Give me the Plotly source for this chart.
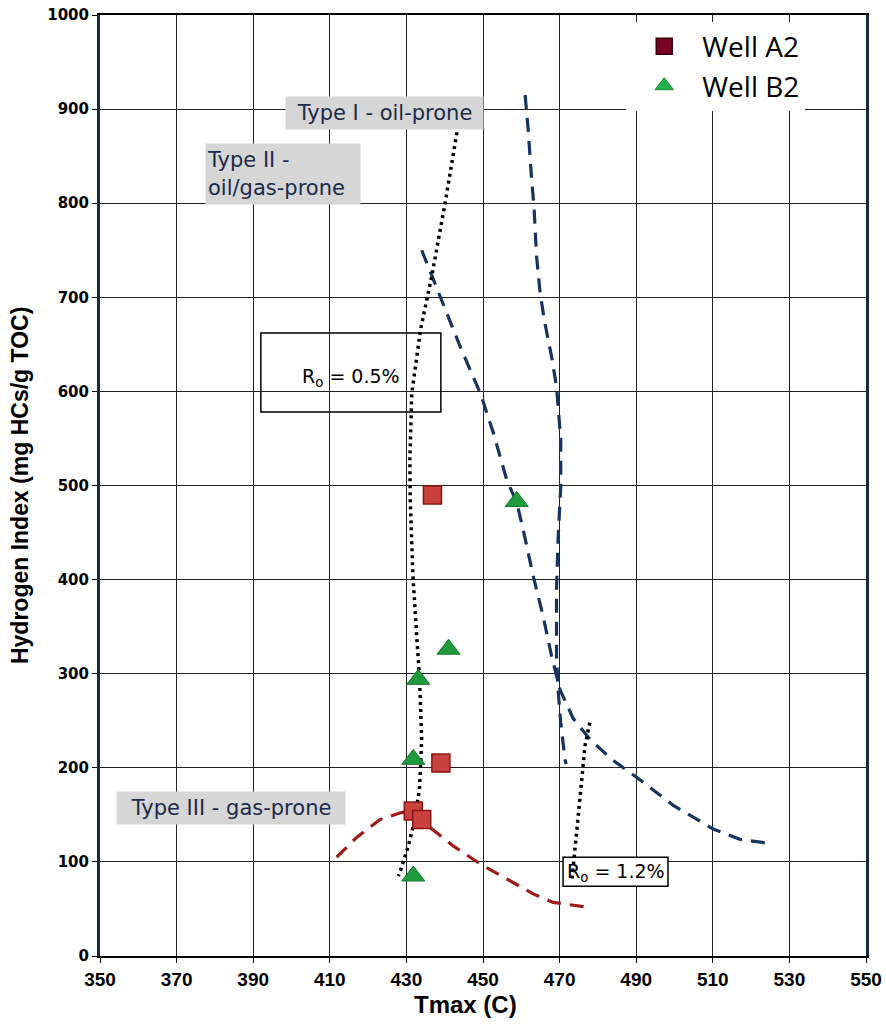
import plotly.graph_objects as go

# ---- data ----
a2_tmax = [436.8, 439.0, 431.8, 434.0]
a2_hi = [490, 205, 154, 145]

b2_tmax = [458.8, 441.0, 433.1, 431.8, 431.8]
b2_hi = [483, 326, 294, 209, 85]

# Ro = 0.5% iso-line (dotted)
ro05_x = [443.8, 440.1, 436.6, 433.7, 431.4, 430.9, 431.0, 431.7, 432.8, 433.4, 434.0, 433.4, 432.2, 430.5, 428.3, 427.9]
ro05_y = [890, 800, 722, 666, 598, 527, 485, 405, 333, 298, 230, 177, 145, 117, 89, 85]

# Ro = 1.2% iso-line (dotted)
ro12_x = [477.9, 476.6, 475.8, 474.5, 473.6, 473.2]
ro12_y = [248, 223, 188, 138, 103, 80]

# Type I boundary (blue dashed)
t1_x = [461.0, 461.8, 462.7, 463.3, 464.0, 464.9, 466.0, 467.9, 469.2, 470.3, 470.3, 469.6, 469.2, 469.2, 469.6, 470.3, 471.4, 471.7]
t1_y = [915, 878, 825, 797, 743, 705, 676, 637, 605, 549, 499, 443, 390, 319, 283, 248, 209, 204]

# Type II boundary (blue dashed)
t2_x = [434.0, 437.0, 440.5, 444.0, 449.4, 452.7, 456.2, 458.8, 460.5, 463.1, 465.7, 467.9, 470.1, 473.6, 478.0, 483.6, 490.1, 499.7, 510.1, 517.1, 525.8]
t2_y = [750, 719, 683, 648, 597, 556, 506, 482, 453, 404, 361, 319, 283, 252, 230, 209, 190, 160, 135, 124, 119]

# Type III boundary (red dashed)
t3_x = [411.8, 417.0, 423.1, 428.3, 430.9, 436.2, 442.2, 449.2, 456.2, 463.1, 468.3, 477.0]
t3_y = [105, 126, 145, 152, 154, 137, 117, 98, 82, 66, 57, 52]

x_ticks = [350, 370, 390, 410, 430, 450, 470, 490, 510, 530, 550]
y_ticks = [0, 100, 200, 300, 400, 500, 600, 700, 800, 900, 1000]

NAVY = "#17345f"
RED_DASH = "#9b1b1b"
TXT = "#1c2a48"
LBL_FONT = "DejaVu Sans, Liberation Sans, Arial"

fig = go.Figure()

fig.add_trace(go.Scatter(x=t1_x, y=t1_y, mode="lines", showlegend=False,
                         line=dict(color=NAVY, width=3.2, dash="14px,9px")))
fig.add_trace(go.Scatter(x=t2_x, y=t2_y, mode="lines", showlegend=False,
                         line=dict(color=NAVY, width=3.2, dash="14px,9px")))
fig.add_trace(go.Scatter(x=t3_x, y=t3_y, mode="lines", showlegend=False,
                         line=dict(color=RED_DASH, width=3.2, dash="14px,9px")))
fig.add_trace(go.Scatter(x=ro05_x, y=ro05_y, mode="lines", showlegend=False,
                         line=dict(color="black", width=3.5, dash="3px,4px")))
fig.add_trace(go.Scatter(x=ro12_x, y=ro12_y, mode="lines", showlegend=False,
                         line=dict(color="black", width=3.5, dash="3px,4px")))

fig.add_trace(go.Scatter(x=a2_tmax, y=a2_hi, mode="markers", showlegend=False,
                         marker=dict(symbol="square", size=18, color="#c9423f",
                                     line=dict(color="#8a1414", width=1.5))))
fig.add_trace(go.Scatter(x=b2_tmax, y=b2_hi, mode="markers", showlegend=False,
                         marker=dict(symbol="triangle-up", size=20, color="#1f9a3c",
                                     line=dict(color="#157a2c", width=1))))

# legend-only entries
fig.add_trace(go.Scatter(x=[None], y=[None], mode="markers", name="Well A2",
                         marker=dict(symbol="square", size=22, color="#7a0024",
                                     line=dict(color="#3a0010", width=1.5))))
fig.add_trace(go.Scatter(x=[None], y=[None], mode="markers", name="Well B2",
                         marker=dict(symbol="triangle-up", size=24, color="#22b14c",
                                     line=dict(color="#168a36", width=1))))

shapes = [
    dict(type="rect", xref="x", yref="y", x0=392.0, x1=439.0, y0=578, y1=662,
         line=dict(color="black", width=1.5), fillcolor="rgba(0,0,0,0)", layer="above"),
    dict(type="rect", xref="x", yref="y", x0=470.9, x1=498.3, y0=74, y1=105,
         line=dict(color="black", width=1.5), fillcolor="white", layer="between"),
]

annotations = [
    dict(x=424.4, y=896, xref="x", yref="y", text="Type I - oil-prone", showarrow=False,
         font=dict(family=LBL_FONT, size=21, color=TXT),
         bgcolor="#d6d6d6", width=195, height=30, xanchor="center", yanchor="middle"),
    dict(x=397.9, y=831, xref="x", yref="y", text="Type II -<br>oil/gas-prone", showarrow=False,
         font=dict(family=LBL_FONT, size=21, color=TXT),
         bgcolor="#d6d6d6", width=152, height=58, align="left", xanchor="center", yanchor="middle"),
    dict(x=384.3, y=157, xref="x", yref="y", text="Type III - gas-prone", showarrow=False,
         font=dict(family=LBL_FONT, size=21, color=TXT),
         bgcolor="#d6d6d6", width=226, height=30, xanchor="center", yanchor="middle"),
    dict(x=415.5, y=615, xref="x", yref="y", text="R<sub>o</sub> = 0.5%", showarrow=False,
         font=dict(family=LBL_FONT, size=19, color="black"),
         xanchor="center", yanchor="middle"),
    dict(x=484.6, y=89, xref="x", yref="y", text="R<sub>o</sub> = 1.2%", showarrow=False,
         font=dict(family=LBL_FONT, size=19, color="black"),
         xanchor="center", yanchor="middle"),
    dict(x=-0.105, y=0.5, xref="paper", yref="paper", text="Hydrogen Index (mg HCs/g TOC)",
         showarrow=False, textangle=-90,
         font=dict(family="Liberation Sans Narrow, Arial Narrow, Liberation Sans", size=23,
                   color="black", weight="bold"),
         xanchor="center", yanchor="middle"),
    dict(x=0.477, y=-0.052, xref="paper", yref="paper", text="Tmax (C)", showarrow=False,
         font=dict(family="Liberation Sans Narrow, Arial Narrow, Liberation Sans", size=24,
                   color="black", weight="bold"),
         xanchor="center", yanchor="middle"),
]

fig.update_layout(
    width=886, height=1030,
    margin=dict(l=100, r=20, t=15, b=74, autoexpand=False),
    paper_bgcolor="white", plot_bgcolor="white",
    shapes=shapes, annotations=annotations,
    legend=dict(x=0.687, y=0.993, xanchor="left", yanchor="top",
                bgcolor="white", borderwidth=0, itemwidth=66,
                font=dict(family="Open Sans, Noto Sans", size=28, color="black"),
                itemsizing="trace", tracegroupgap=4),
    showlegend=True,
)

fig.update_xaxes(range=[350, 550], tickvals=x_ticks, ticktext=[str(v) for v in x_ticks],
                 showgrid=True, gridcolor="#222222", gridwidth=1,
                 showline=True, linecolor="black", linewidth=2, mirror=True,
                 ticks="outside", ticklen=5, tickcolor="black", automargin=False,
                 tickfont=dict(family="Liberation Sans Narrow, Arial Narrow, Liberation Sans",
                               size=19, color="black", weight="bold"),
                 zeroline=False)
fig.update_yaxes(range=[0, 1000], tickvals=y_ticks, ticktext=[str(v) for v in y_ticks],
                 showgrid=True, gridcolor="#222222", gridwidth=1,
                 showline=True, linecolor="#1b2a44", linewidth=3, mirror=True,
                 ticks="outside", ticklen=5, tickcolor="black", automargin=False,
                 tickfont=dict(family="DejaVu Sans", size=15, color="black", weight="bold"),
                 zeroline=False)

fig.write_html("out.html")
